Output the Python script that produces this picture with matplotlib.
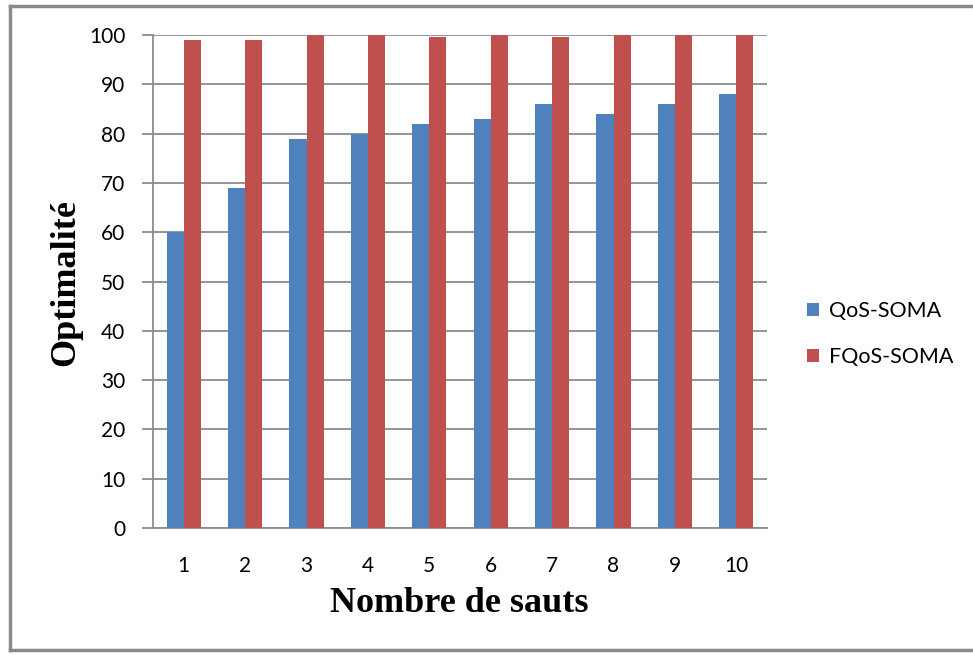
import numpy as np
import matplotlib.pyplot as plt
from matplotlib.lines import Line2D

sauts = ['1', '2', '3', '4', '5', '6', '7', '8', '9', '10']
qos_soma = [60, 69, 79, 80, 82, 83, 86, 84, 86, 88]
fqos_soma = [99, 99, 100, 100, 99.5, 100, 99.5, 100, 100, 100]

fig = plt.figure(figsize=(9.73, 6.55), dpi=100)
ax = fig.add_axes([153/973, 1 - 528/655, (767 - 153)/973, (528 - 35)/655])

x = np.arange(len(sauts))
w = 0.277
ax.bar(x - w/2, qos_soma, w, color='#4F81BD', label='QoS-SOMA', zorder=3)
ax.bar(x + w/2, fqos_soma, w, color='#C0504D', label='FQoS-SOMA', zorder=3)

gray = '#8c8c8c'
ax.set_xlim(-0.5, 9.5)
ax.set_ylim(0, 100)
ax.set_yticks(range(0, 101, 10))
ax.set_xticks(x)
ax.set_xticklabels(sauts)
ax.yaxis.grid(True, color=gray, linewidth=1.3, zorder=0)
for s in ['top', 'right']:
    ax.spines[s].set_visible(False)
for s in ['left', 'bottom']:
    ax.spines[s].set_color(gray)
    ax.spines[s].set_linewidth(1.3)
ax.tick_params(axis='y', length=8, color=gray, width=1.3, pad=12, labelsize=15)
ax.tick_params(axis='x', length=0, pad=20, labelsize=15)
for lab in ax.get_xticklabels() + ax.get_yticklabels():
    lab.set_family('Lato')

fig.text(66/973, 1 - 283/655, 'Optimalité', rotation=90, ha='center', va='center',
         family='Liberation Serif', fontweight='bold', fontsize=26)
fig.text(459/973, 1 - 603/655, 'Nombre de sauts', ha='center', va='center',
         family='Liberation Serif', fontweight='bold', fontsize=26)

fig.legend(loc='center left', bbox_to_anchor=(788/973, 1 - 334/655), frameon=False,
           prop={'family': 'Lato', 'size': 15.5}, handlelength=0.55, handleheight=0.55,
           handletextpad=0.45, labelspacing=1.2)

fig.add_artist(Line2D([10/973, 10/973], [5/655, 649/655], color='#8a8a8a', lw=2.5))
fig.add_artist(Line2D([10/973, 1], [649/655, 649/655], color='#8a8a8a', lw=2.5))
fig.add_artist(Line2D([10/973, 1], [5/655, 5/655], color='#8a8a8a', lw=2.5))

fig.savefig('out.png', dpi=100)
